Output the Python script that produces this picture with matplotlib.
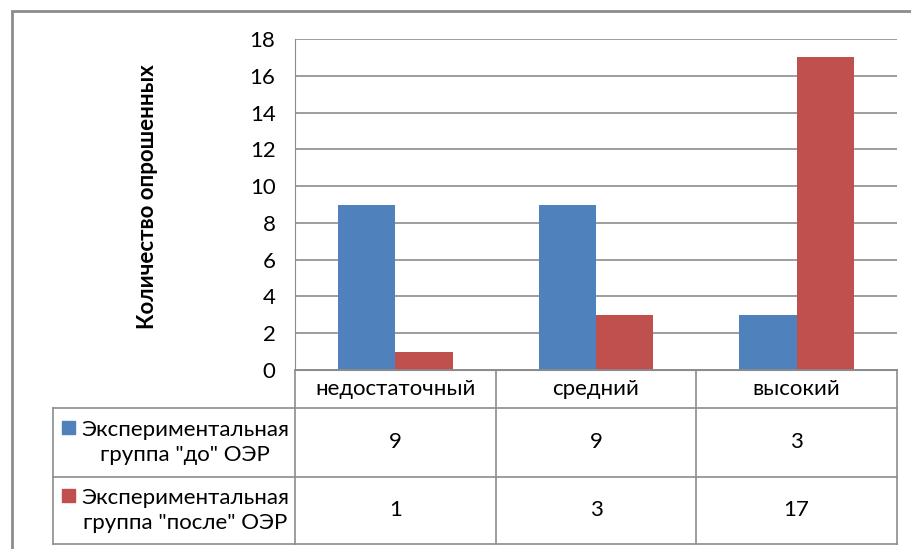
import matplotlib
matplotlib.use("Agg")
import matplotlib.pyplot as plt
from matplotlib.patches import Rectangle
from matplotlib.lines import Line2D

plt.rcParams['font.family'] = ['Lato', 'DejaVu Sans']

categories = ['недостаточный', 'средний', 'высокий']
series_names = ['Экспериментальная\nгруппа "до" ОЭР', 'Экспериментальная\nгруппа "после" ОЭР']
before = [9, 9, 3]
after = [1, 3, 17]
colors = ['#4F81BD', '#C0504D']
y_ticks = [0, 2, 4, 6, 8, 10, 12, 14, 16, 18]
y_label = 'Количество опрошенных'

W, H = 912, 549
fig = plt.figure(figsize=(W / 100, H / 100), dpi=100)
grid_c = '#8C8C8C'
fs = 16


def fx(px):
    return px / W


def fy(py):
    return 1 - py / H


# outer chart frame
fig.add_artist(Rectangle((fx(12), fy(600)), fx(950), fy(11) - fy(600),
                         transform=fig.transFigure, fill=False,
                         edgecolor='#8C8C8C', lw=2))

left, right, top, bottom = 295, 897, 39, 370
ax = fig.add_axes([fx(left), fy(bottom), fx(right - left), fy(top) - fy(bottom)])

x = range(len(categories))
bw = 0.285
ax.bar([i - bw / 2 for i in x], before, width=bw, color=colors[0], zorder=3)
ax.bar([i + bw / 2 for i in x], after, width=bw, color=colors[1], zorder=3)
ax.set_xlim(-0.5, len(categories) - 0.5)
ax.set_ylim(0, 18)
ax.set_yticks(y_ticks)
ax.set_yticklabels([str(t) for t in y_ticks], fontsize=fs)
ax.tick_params(axis='y', length=0, pad=14)
ax.set_xticks([])
ax.yaxis.grid(True, color=grid_c, lw=1.2, zorder=0)
for s in ['top', 'right']:
    ax.spines[s].set_visible(False)
ax.spines['left'].set_color(grid_c)
ax.spines['bottom'].set_color(grid_c)

fig.text(fx(148), fy(197), y_label, rotation=90, ha='center', va='center',
         fontsize=16, fontweight='bold')

# data table under the axis
col_x = [295, 496, 696, 897]
row_y = [370, 408, 477, 544]
tbl_left = 53


def hline(py, x0, x1):
    fig.add_artist(Line2D([fx(x0), fx(x1)], [fy(py), fy(py)],
                          transform=fig.transFigure, color=grid_c, lw=1.2))


def vline(px, y0, y1):
    fig.add_artist(Line2D([fx(px), fx(px)], [fy(y0), fy(y1)],
                          transform=fig.transFigure, color=grid_c, lw=1.2))


hline(row_y[0], col_x[0], col_x[-1])
for py in row_y[1:]:
    hline(py, tbl_left, col_x[-1])
vline(tbl_left, row_y[1], row_y[-1])
for px in col_x:
    vline(px, row_y[0], row_y[-1])

for i, cat in enumerate(categories):
    cx = (col_x[i] + col_x[i + 1]) / 2
    fig.text(fx(cx), fy((row_y[0] + row_y[1]) / 2), cat, ha='center', va='center', fontsize=fs)

for r, (name, vals) in enumerate(zip(series_names, [before, after])):
    cy = (row_y[r + 1] + row_y[r + 2]) / 2
    fig.text(fx(185), fy(cy), name, ha='center', va='center', fontsize=fs,
             linespacing=1.35)
    fig.add_artist(Rectangle((fx(62), fy(cy - 9)), fx(13), fy(cy - 22) - fy(cy - 9),
                             transform=fig.transFigure, color=colors[r]))
    for i, v in enumerate(vals):
        cx = (col_x[i] + col_x[i + 1]) / 2
        fig.text(fx(cx), fy(cy), str(v), ha='center', va='center', fontsize=fs)

fig.savefig('out.png', dpi=100)
